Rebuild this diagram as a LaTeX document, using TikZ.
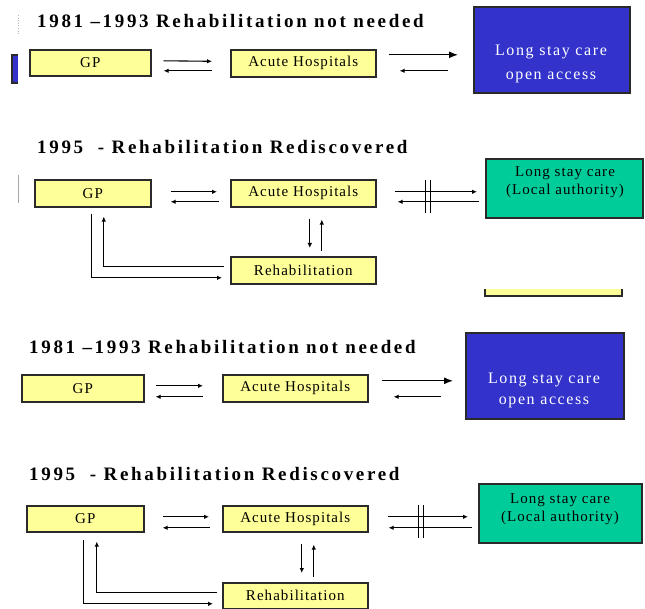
\documentclass[tikz,border=0pt]{standalone}
\usepackage{fontspec}
\setmainfont{Liberation Serif}
\newfontfamily\titlefont[LetterSpace=14]{Liberation Serif}
\newfontfamily\boxfont[LetterSpace=7]{Liberation Serif}
\newfontfamily\widefont[LetterSpace=10]{Liberation Serif}
\usetikzlibrary{calc,arrows.meta}

\definecolor{boxyellow}{HTML}{FFFF99}
\definecolor{boxline}{HTML}{2A2A2A}
\definecolor{careblue}{HTML}{3333CC}
\definecolor{caregreen}{HTML}{00CC99}

\tikzset{
  heading/.style={anchor=base west, inner sep=0pt,
    font=\titlefont\bfseries\fontsize{19}{22}\selectfont},
  ybox/.style={draw=boxline, line width=1.6pt, fill=boxyellow, anchor=north west,
    inner sep=0pt, font=\boxfont\fontsize{15}{18}\selectfont},
  bluebox/.style={draw=boxline, line width=1.6pt, fill=careblue, anchor=north west, inner sep=0pt},
  greenbox/.style={draw=boxline, line width=1.6pt, fill=caregreen, anchor=north west, inner sep=0pt},
  bluetext/.style={anchor=base, inner sep=0pt, text=white,
    font=\widefont\fontsize{16}{18}\selectfont},
  greentext/.style={anchor=base, inner sep=0pt, text=black,
    font=\boxfont\fontsize{15}{18}\selectfont},
  arr/.style={line width=1.1pt, -{Latex[length=5pt,width=4.5pt]}},
  bigarr/.style={line width=1.1pt, -{Latex[length=9pt,width=7pt]}},
  barline/.style={line width=1.1pt},
}

\begin{document}
\begin{tikzpicture}[x=1pt,y=-1pt]
\useasboundingbox (0,0) rectangle (645,609);

% edge fragments
\fill[careblue] (12,55) rectangle (18,83);
\draw[boxline, line width=1.2pt] (18,55) -- (12,55) -- (12,83) -- (18,83);
\draw[gray!60, line width=0.6pt, dotted] (18,15) -- (18,35);
\draw[gray!70, line width=0.6pt] (18,175) -- (18,203);
\fill[boxyellow] (485,289) rectangle (622,296);
\draw[boxline, line width=1.6pt] (485,289) -- (485,296) -- (622,296) -- (622,289);

% ---------- 1981-1993 (upper) ----------
\node[heading] (t1) at (37,28) {1981 –1993 Rehabilitation not needed};
\node[ybox, minimum width=121pt, minimum height=26pt] (gp1) at (29,49) {GP};
\node[ybox, minimum width=145pt, minimum height=27pt] (acute1) at (230,49) {Acute Hospitals};
\node[bluebox, minimum width=156pt, minimum height=86pt] (ls1) at (473,6) {};
\node[bluetext] (ls1a) at (551,56) {Long stay care};
\node[bluetext] (ls1b) at (551,80) {open access};

\draw[arr] ($(gp1.east)+(12,-2)$) -- ($(acute1.west)+(-18,-2)$);
\draw[arr] ($(acute1.west)+(-18,7.5)$) -- ($(gp1.east)+(12,8)$);
\draw[bigarr] ($(acute1.east)+(12,-8.5)$) -- ($(ls1.west)+(-15,5)$);
\draw[arr] ($(ls1.west)+(-25,21)$) -- ($(acute1.east)+(23,7.5)$);

% ---------- 1995 (upper) ----------
\node[heading] (t2) at (37,154) {1995\ \ - Rehabilitation Rediscovered};
\node[ybox, minimum width=116pt, minimum height=27pt] (gp2) at (34,179) {GP};
\node[ybox, minimum width=145pt, minimum height=27pt] (acute2) at (230,179) {Acute Hospitals};
\node[ybox, minimum width=145pt, minimum height=27pt] (rehab2) at (230,256) {Rehabilitation};
\node[greenbox, minimum width=157pt, minimum height=59pt] (ls2) at (485,158) {};
\node[greentext] (ls2a) at (565,177) {Long stay care};
\node[greentext] (ls2b) at (565,195) {(Local authority)};

\draw[arr] ($(gp2.east)+(19,-1.5)$) -- ($(acute2.west)+(-13,-1.5)$);
\draw[arr] ($(acute2.west)+(-11,8.5)$) -- ($(gp2.east)+(19,8.5)$);
\draw[arr] ($(acute2.east)+(18,-1.5)$) -- ($(ls2.west)+(-8,3.5)$);
\draw[arr] ($(ls2.west)+(-6,13.5)$) -- ($(acute2.east)+(21,8.5)$);
\draw[barline] ($(acute2.east)+(49,-13.5)$) -- ($(acute2.east)+(49,19.5)$);
\draw[barline] ($(acute2.east)+(54,-13.5)$) -- ($(acute2.east)+(54,19.5)$);
\draw[arr] ($(acute2.south)+(6.5,11)$) -- ($(rehab2.north)+(6.5,-8)$);
\draw[arr] ($(rehab2.north)+(18.5,-5)$) -- ($(acute2.south)+(18.5,12)$);
\draw[arr] ($(gp2.south)+(-1,6)$) |- ($(rehab2.west)+(-8,7.5)$);
\draw[arr] ($(rehab2.west)+(-6,-3.5)$) -| ($(gp2.south)+(11,9)$);

% ---------- 1981-1993 (lower) ----------
\node[heading] (t3) at (29,354) {1981 –1993 Rehabilitation not needed};
\node[ybox, minimum width=122pt, minimum height=27pt] (gp3) at (21,374) {GP};
\node[ybox, minimum width=145pt, minimum height=27pt] (acute3) at (222,374) {Acute Hospitals};
\node[bluebox, minimum width=158pt, minimum height=86pt] (ls3) at (465,332) {};
\node[bluetext] (ls3a) at (544,383) {Long stay care};
\node[bluetext] (ls3b) at (544,404) {open access};

\draw[arr] ($(gp3.east)+(11,-2.5)$) -- ($(acute3.west)+(-19,-2.5)$);
\draw[arr] ($(acute3.west)+(-19,8.5)$) -- ($(gp3.east)+(11,8.5)$);
\draw[bigarr] ($(acute3.east)+(13,-7.5)$) -- ($(ls3.west)+(-12,5)$);
\draw[arr] ($(ls3.west)+(-24,21)$) -- ($(acute3.east)+(25,8.5)$);

% ---------- 1995 (lower) ----------
\node[heading] (t4) at (29,480) {1995\ \ - Rehabilitation Rediscovered};
\node[ybox, minimum width=117pt, minimum height=26pt] (gp4) at (26,505) {GP};
\node[ybox, minimum width=145pt, minimum height=26pt] (acute4) at (222,505) {Acute Hospitals};
\node[ybox, minimum width=145pt, minimum height=26pt] (rehab4) at (222,582) {Rehabilitation};
\node[greenbox, minimum width=163pt, minimum height=59pt] (ls4) at (478,483) {};
\node[greentext] (ls4a) at (560,503) {Long stay care};
\node[greentext] (ls4b) at (560,521) {(Local authority)};

\draw[arr] ($(gp4.east)+(18,-2)$) -- ($(acute4.west)+(-13,-2)$);
\draw[arr] ($(acute4.west)+(-12,9)$) -- ($(gp4.east)+(18,9)$);
\draw[arr] ($(acute4.east)+(19,-2)$) -- ($(ls4.west)+(-10,3.5)$);
\draw[arr] ($(ls4.west)+(-6,14.5)$) -- ($(acute4.east)+(20,9)$);
\draw[barline] ($(acute4.east)+(50,-14)$) -- ($(acute4.east)+(50,19)$);
\draw[barline] ($(acute4.east)+(55,-14)$) -- ($(acute4.east)+(55,19)$);
\draw[arr] ($(acute4.south)+(6.5,11)$) -- ($(rehab4.north)+(6.5,-9)$);
\draw[arr] ($(rehab4.north)+(18.5,-5)$) -- ($(acute4.south)+(18.5,12)$);
\draw[arr] ($(gp4.south)+(-1.5,7)$) |- ($(rehab4.west)+(-9,8)$);
\draw[arr] ($(rehab4.west)+(-5,-3)$) -| ($(gp4.south)+(11.5,9)$);
\end{tikzpicture}
\end{document}
